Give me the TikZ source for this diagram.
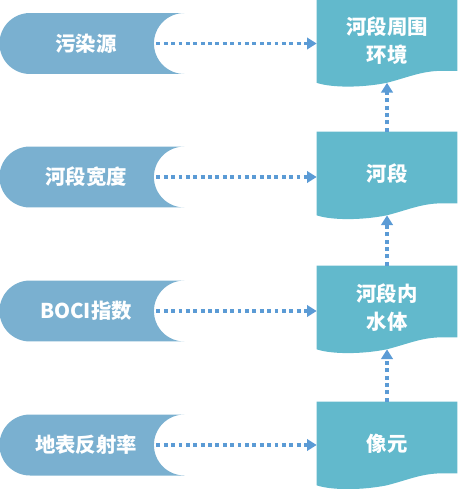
\documentclass[tikz,border=0pt]{standalone}
\usepackage{fontspec}
\newfontfamily\cjk{Noto Sans CJK SC}
\usetikzlibrary{arrows.meta,positioning,calc,shapes.misc,backgrounds}
\definecolor{srcblue}{RGB}{122,176,208}
\definecolor{docteal}{RGB}{98,185,204}
\definecolor{flowblue}{RGB}{91,155,213}
% document shape with a wavy bottom, behind node #1
\newcommand{\docshape}[1]{%
  \fill[docteal] (#1.north west) -- (#1.north east) -- ($(#1.south east)+(0,-12)$)
    -- ($(#1.south west)+(125,-12)$)
    .. controls ($(#1.south west)+(105,-12)$) and ($(#1.south west)+(90,-5)$) .. ($(#1.south west)+(70,0)$)
    .. controls ($(#1.south west)+(45,5)$) and ($(#1.south west)+(15,5)$) .. (#1.south west) -- cycle;}

\begin{document}
\begin{tikzpicture}[x=0.02cm,y=-0.02cm,
  txt/.style={text=white,font=\cjk\bfseries\fontsize{11.6}{15.9}\selectfont},
  src/.style={txt,rounded rectangle,rounded rectangle right arc=concave,fill=srcblue,
    minimum width=3.7cm,minimum height=1.22cm,inner sep=0pt,
    execute at begin node=\hspace*{0.34cm}},
  doc/.style={txt,rectangle,align=center,minimum width=2.8cm,minimum height=1.66cm,inner sep=0pt},
  flow/.style={draw=flowblue,line width=2pt,dash pattern=on 2.2pt off 2pt,
    -{Triangle[length=5.5pt,width=6.5pt]}}]
\useasboundingbox (0,0) rectangle (458,489);
\node[src] (pol) at (77.5,43.5) {污染源};
\node[src] (wid) at (77.5,177) {河段宽度};
\node[src] (boci) at (77.5,311) {BOCI指数};
\node[src] (refl) at (77.5,445) {地表反射率};
\node[doc] (env) at (387,41) {河段周围\\环境};
\node[doc] (reach) at (387,173.5) {河段};
\node[doc] (water) at (387,307.5) {河段内\\水体};
\node[doc] (pix) at (387,443.5) {像元};
\begin{scope}[on background layer]
\docshape{env}
\docshape{reach}
\docshape{water}
\docshape{pix}
\end{scope}
\draw[flow] ([xshift=-0.56cm]pol.east) -- (pol.east -| env.west);
\draw[flow] ([xshift=-0.56cm]wid.east) -- (wid.east -| reach.west);
\draw[flow] ([xshift=-0.56cm]boci.east) -- (boci.east -| water.west);
\draw[flow] ([xshift=-0.56cm]refl.east) -- (refl.east -| pix.west);
\draw[flow] (pix.north) -- (water.south);
\draw[flow] (water.north) -- (reach.south);
\draw[flow] (reach.north) -- (env.south);
\end{tikzpicture}
\end{document}
